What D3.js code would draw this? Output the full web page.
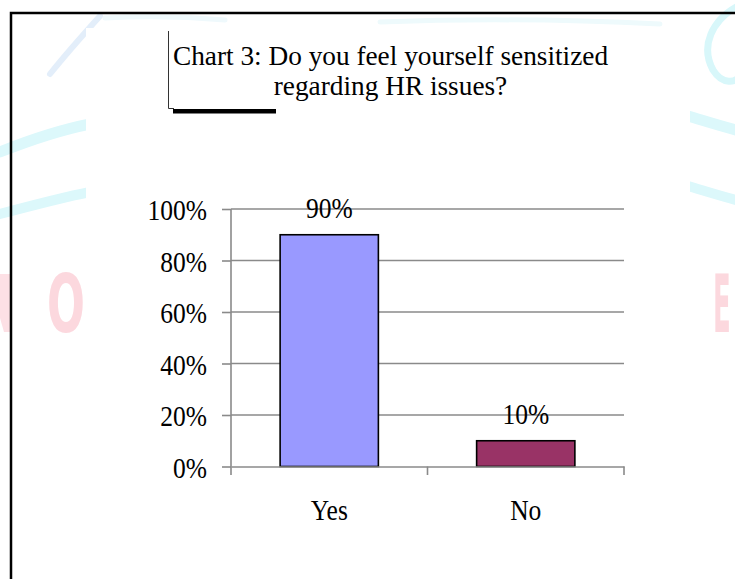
<!DOCTYPE html>
<html>
<head>
<meta charset="utf-8">
<script src="https://cdn.jsdelivr.net/npm/d3@7"></script>
<style>
  html, body { margin: 0; padding: 0; background: #ffffff; }
  svg { display: block; }
  .serif { font-family: "Liberation Serif", "Times New Roman", serif; fill: #000; }
</style>
</head>
<body>
<svg id="chart" width="735" height="579"></svg>
<script>
// ---- data ----
const categories = ["Yes", "No"];
const values = [0.90, 0.10];
const barColors = ["#9999FF", "#993366"];
const yTicks = [0, 0.2, 0.4, 0.6, 0.8, 1.0];
const titleLines = ["Chart 3: Do you feel yourself sensitized", "regarding HR issues?"];

// ---- layout ----
const W = 735, H = 579;
const plot = { left: 231, right: 624, top: 209, bottom: 466.5 };
const STRETCH = 1.15;
const svg = d3.select("#chart");

// ---- faint watermark background (scanned page) ----
const wm = svg.append("g");
const wmPaths = [
  { d: "M50,74 C66,54 82,36 100,16", c: "#e3eefa", w: 6 },
  { d: "M105,18 C140,16 180,16 225,20", c: "#eff9fc", w: 5 },
  { d: "M0,152 C30,140 60,130 90,124", c: "#dcf8fb", w: 11 },
  { d: "M0,214 C30,206 60,198 90,192", c: "#dcf8fb", w: 10 },
  { d: "M380,22 C460,19 560,19 660,24", c: "#eefafc", w: 5 },
  { d: "M738,6 C712,20 700,46 713,70 C723,86 736,82 740,76", c: "#d8f7fa", w: 7 },
  { d: "M688,116 C705,121 720,126 740,131", c: "#dcf8fb", w: 11 },
  { d: "M688,186 C705,191 720,196 740,201", c: "#dcf8fb", w: 10 }
];
wm.selectAll("path").data(wmPaths).join("path")
  .attr("d", d => d.d).attr("fill", "none")
  .attr("stroke", d => d.c).attr("stroke-width", d => d.w)
  .attr("stroke-linecap", "round");

// partial "N" stroke fragment at the left edge
wm.append("path").attr("d", "M0,274 L12,274 L12,332 L4,332 L0,318 Z").attr("fill", "#fde0e5");

const wmLetters = [
  { t: "O", x: 47, sx: 0.62 },
  { t: "E", x: 713, sx: 0.36 }
];
wm.selectAll("g.wml").data(wmLetters).join("g")
  .attr("class", "wml")
  .attr("transform", d => `translate(${d.x},332) scale(${d.sx},1)`)
  .append("text")
  .style("font-family", "'DejaVu Sans Condensed', 'DejaVu Sans', sans-serif")
  .style("font-weight", "bold")
  .style("font-size", "80px")
  .style("fill", "#fcd8de")
  .text(d => d.t);

// white chart panel on top of the watermark
svg.append("rect").attr("x", 86).attr("y", 28).attr("width", 690 - 86).attr("height", H - 28)
  .attr("fill", "#ffffff");

// outer page frame (left + top)
svg.append("path").attr("d", `M11,${H} L11,13 L${W},13`)
  .attr("fill", "none").attr("stroke", "#000").attr("stroke-width", 2.5);

// ---- title with its box artifact ----
const titleG = svg.append("g");
titleG.append("path").attr("d", "M168.5,31 L168.5,108.5 L174,108.5")
  .attr("fill", "none").attr("stroke", "#333").attr("stroke-width", 1);
titleG.append("rect").attr("x", 173).attr("y", 109).attr("width", 103).attr("height", 4.5)
  .attr("fill", "#000");
const titleBase = [64.5, 95];
titleG.selectAll("text.title").data(titleLines).join("text")
  .attr("class", "serif title")
  .attr("x", 390.5)
  .attr("y", (d, i) => titleBase[i])
  .attr("text-anchor", "middle")
  .style("font-size", "27.3px")
  .text(d => d);

// ---- scales ----
const x = d3.scaleBand().domain(categories).range([plot.left, plot.right]).paddingInner(0.5).paddingOuter(0.25);
const y = d3.scaleLinear().domain([0, 1]).range([plot.bottom, plot.top]);

// gridlines
svg.append("g").selectAll("line").data(yTicks.filter(t => t > 0)).join("line")
  .attr("x1", plot.left).attr("x2", plot.right)
  .attr("y1", d => y(d)).attr("y2", d => y(d))
  .attr("stroke", "#8a8a8a").attr("stroke-width", 1.6);

// y axis
const yAxis = svg.append("g").attr("transform", `translate(${plot.left},0)`)
  .call(d3.axisLeft(y).tickValues(yTicks).tickFormat(d3.format(".0%")).tickSize(9).tickSizeOuter(0));
yAxis.select(".domain").remove();
yAxis.selectAll(".tick line").attr("stroke", "#8a8a8a").attr("stroke-width", 1.6);
yAxis.selectAll(".tick text")
  .attr("class", "serif")
  .attr("x", -24).attr("dy", 0)
  .attr("transform", `translate(0,10.5) scale(1,${STRETCH})`)
  .attr("font-family", null)
  .style("font-size", "25.5px");
svg.append("line").attr("x1", plot.left).attr("x2", plot.left)
  .attr("y1", plot.top).attr("y2", plot.bottom + 8.5)
  .attr("stroke", "#8a8a8a").attr("stroke-width", 1.6);

// bars
svg.append("g").selectAll("rect").data(categories).join("rect")
  .attr("x", d => x(d)).attr("width", x.bandwidth())
  .attr("y", (d, i) => y(values[i]))
  .attr("height", (d, i) => y(0) - y(values[i]))
  .attr("fill", (d, i) => barColors[i])
  .attr("stroke", "#000").attr("stroke-width", 1.6);

// x axis
const xAxis = svg.append("g").attr("transform", `translate(0,${plot.bottom})`)
  .call(d3.axisBottom(x).tickSize(0).tickSizeOuter(0));
xAxis.select(".domain").attr("stroke", "#8a8a8a").attr("stroke-width", 1.6);
xAxis.selectAll(".tick text")
  .attr("class", "serif")
  .attr("y", 0).attr("dy", 0)
  .attr("transform", `translate(0,53.5) scale(1,${STRETCH})`)
  .attr("font-family", null)
  .style("font-size", "25.5px");
// category boundary ticks
const step = x.step();
const bounds = categories.map(c => x(c) - x.bandwidth() / 2 + step);
svg.append("g").selectAll("line").data(bounds).join("line")
  .attr("x1", d => d).attr("x2", d => d)
  .attr("y1", plot.bottom).attr("y2", plot.bottom + 8.5)
  .attr("stroke", "#8a8a8a").attr("stroke-width", 1.6);

// data labels
svg.append("g").selectAll("g").data(categories).join("g")
  .attr("transform", (d, i) => `translate(${x(d) + x.bandwidth() / 2},${y(values[i]) - 16.5}) scale(1,${STRETCH})`)
  .append("text")
  .attr("class", "serif")
  .attr("text-anchor", "middle")
  .style("font-size", "25.5px")
  .text((d, i) => d3.format(".0%")(values[i]));
</script>
</body>
</html>
